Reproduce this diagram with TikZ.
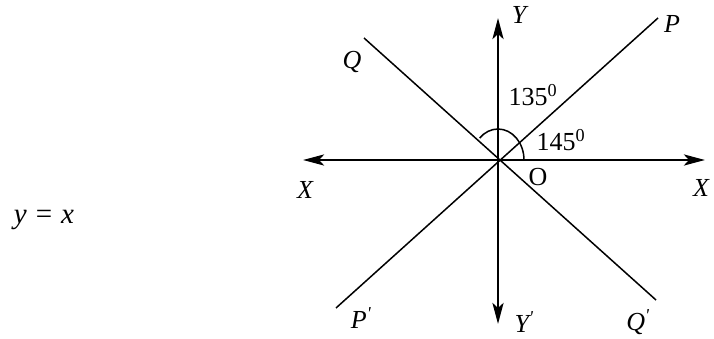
\documentclass[tikz,border=0pt]{standalone}
\usepackage{fontspec}
\setmainfont{Liberation Serif}
\usetikzlibrary{arrows.meta}
\begin{document}
\begin{tikzpicture}[x=1pt,y=-1pt,
  axis/.style={line width=2.8pt,-{Stealth[length=21pt,width=11pt,inset=5pt]}},
  thinline/.style={line width=1.5pt},
  lbl/.style={inner sep=0pt,font=\fontsize{26}{28}\selectfont},
  ilbl/.style={lbl,font=\fontsize{26}{28}\selectfont\itshape}]
\useasboundingbox (0,0) rectangle (714,339);
\coordinate (O) at (498,160);
\coordinate (xl) at (303,160);
\coordinate (xr) at (705,160);
\coordinate (yt) at (498,18);
\coordinate (yb) at (498,324);
\coordinate (p1) at (658,18);
\coordinate (p2) at (336,308);
\coordinate (q1) at (364,38);
\coordinate (q2) at (656,300);
\draw[thinline] (p2) -- (p1);
\draw[thinline] (q1) -- (q2);
\draw[axis] (O) -- (xl);
\draw[axis] (O) -- (xr);
\draw[axis] (O) -- (yt);
\draw[axis] (O) -- (yb);
\draw[thinline] ([xshift=26pt]O) arc[start angle=0,end angle=135,x radius=26,y radius=-31];
\node[ilbl] (lY) at (519,15) {Y};
\node[ilbl] (lP) at (672,24) {P};
\node[ilbl] (lQ) at (352,62) {Q};
\node[lbl] (a135) at (533,95) {135\textsuperscript{0}};
\node[lbl] (a145) at (561,140) {145\textsuperscript{0}};
\node[lbl] (lO) at (538,177) {O};
\node[ilbl] (lXl) at (305,190) {X};
\node[ilbl] (lXr) at (701,188) {X};
\node[ilbl,font=\fontsize{29}{31}\selectfont\itshape] (eq) at (44,220) {y\hspace{9pt}\textup{=}\hspace{9pt}x};
\node[ilbl] (lPp) at (361,318) {P\textsuperscript{\textquotesingle}};
\node[ilbl] (lYp) at (524,322) {Y\textsuperscript{\textquotesingle}};
\node[ilbl] (lQp) at (638,322) {Q\textsuperscript{\textquotesingle}};
\end{tikzpicture}
\end{document}
